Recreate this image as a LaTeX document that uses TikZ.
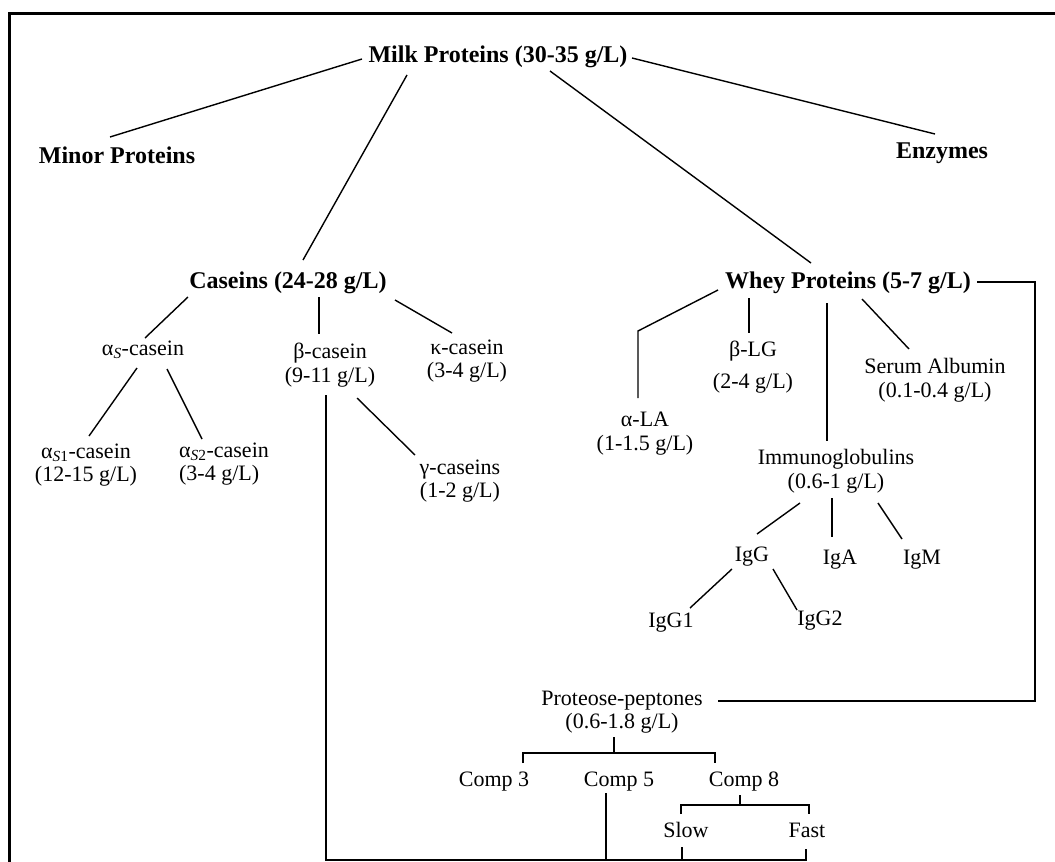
\documentclass[tikz,border=0pt]{standalone}
\usepackage{fontspec}
\setmainfont{Liberation Serif}
\usetikzlibrary{calc}
\tikzset{
  head/.style={inner sep=0pt, font=\fontsize{24}{28}\selectfont\bfseries},
  lab/.style={inner sep=0pt, align=center, font=\fontsize{22}{23.5}\selectfont},
  link/.style={line width=1.4pt, line join=miter},
  frame/.style={line width=2.8pt}
}
\begin{document}
\begin{tikzpicture}[x=1pt,y=-1pt]
\useasboundingbox (0,0) rectangle (1055,862);
\draw[frame] (9.5,862) -- (9.5,13.5) -- (1055,13.5);
% top level
\node[head] (milk) at (498,57) {Milk Proteins (30-35 g/L)};
\node[head] (minor) at (117,155) {Minor Proteins};
\node[head] (enz) at (942,153) {Enzymes};
\node[head] (cas) at (288,283) {Caseins (24-28 g/L)};
\node[head] (whey) at (848,283) {Whey Proteins (5-7 g/L)};
% caseins
\node[lab] (as) at (143,350) {α\textsubscript{\textit{S}}-casein};
\node[lab] (bc) at (330,365) {β-casein\\(9-11 g/L)};
\node[lab] (kc) at (467,361) {κ-casein\\(3-4 g/L)};
\node[lab] (as1) at (86,465) {α\textsubscript{\textit{S}1}-casein\\(12-15 g/L)};
\node[lab, align=left] (as2) at (224,464) {α\textsubscript{\textit{S}2}-casein\\(3-4 g/L)};
\node[lab] (gc) at (460,481) {γ-caseins\\(1-2 g/L)};
% whey
\node[lab] (ala) at (645,433.5) {α-LA\\(1-1.5 g/L)};
\node[lab] (blg) at (753,367) {β-LG\\[8pt](2-4 g/L)};
\node[lab] (sa) at (935,380) {Serum Albumin\\(0.1-0.4 g/L)};
\node[lab] (ig) at (836,471) {Immunoglobulins\\(0.6-1 g/L)};
\node[lab] (igg) at (752,557) {IgG};
\node[lab] (iga) at (840,560) {IgA};
\node[lab] (igm) at (922,560) {IgM};
\node[lab] (igg1) at (671,623) {IgG1};
\node[lab] (igg2) at (820,621) {IgG2};
% proteose-peptones
\node[lab] (pp) at (622,712) {Proteose-peptones\\(0.6-1.8 g/L)};
\node[lab] (c3) at (494,782) {Comp 3};
\node[lab] (c5) at (619,782) {Comp 5};
\node[lab] (c8) at (744,782) {Comp 8};
\node[lab] (slow) at (686,830) {Slow};
\node[lab] (fast) at (807,830) {Fast};
% connectors from milk
\draw[link] ($(milk)+(-136,2)$) -- ($(minor)+(-7,-18)$);
\draw[link] ($(milk)+(134,1)$) -- ($(enz)+(-7,-19)$);
\draw[link] ($(milk)+(-91,18)$) -- ($(cas)+(15,-23)$);
\draw[link] ($(milk)+(52,14)$) -- ($(whey)+(-37,-20)$);
% caseins
\draw[link] ($(cas)+(-100,14)$) -- ($(as)+(2,-12)$);
\draw[link] ($(cas)+(31,14)$) -- ($(bc)+(-11,-31)$);
\draw[link] ($(cas)+(107,17)$) -- ($(kc)+(-15,-28)$);
\draw[link] ($(as)+(-6,18)$) -- ($(as1)+(3,-29)$);
\draw[link] ($(as)+(24,19)$) -- ($(as2)+(-22,-25)$);
\draw[link] ($(bc)+(27,33)$) -- ($(gc)+(-45,-26)$);
\draw[link] ($(bc)+(-4,30)$) |- ($(fast)+(-1,30)$) -- ($(fast)+(-1,19)$);
\draw[link] ($(c5)+(-13,11)$) -- ($(c5)+(-13,78)$);
\draw[link] ($(slow)+(-4,17)$) -- ($(slow)+(-4,30)$);
% whey
\draw[link] ($(whey)+(-130,7)$) -- ($(ala)+(-7,-102.5)$) -- ($(ala)+(-7,-35.5)$);
\draw[link] ($(whey)+(-99,15)$) -- ($(blg)+(-4,-34)$);
\draw[link] ($(whey)+(-21,20)$) -- ($(ig)+(-9,-30)$);
\draw[link] ($(whey)+(14,16)$) -- ($(sa)+(-26,-31)$);
\draw[link] ($(whey)+(129,-1)$) -| ($(pp)+(413,-11)$) -- ($(pp)+(96,-11)$);
% immunoglobulins
\draw[link] ($(ig)+(-36,32)$) -- ($(igg)+(5,-23)$);
\draw[link] ($(ig)+(-4,27)$) -- ($(iga)+(-8,-23)$);
\draw[link] ($(ig)+(42,32)$) -- ($(igm)+(-20,-21)$);
\draw[link] ($(igg)+(-20,12)$) -- ($(igg1)+(19,-15)$);
\draw[link] ($(igg)+(21,12)$) -- ($(igg2)+(-23,-11)$);
% proteose-peptones brackets
\draw[link] ($(pp)+(-8,25)$) -- ($(pp)+(-8,41)$);
\draw[link] ($(c3)+(29,-19)$) |- ($(c8)+(-29,-29)$) -- ($(c8)+(-29,-19)$);
\draw[link] ($(c8)+(-4,13)$) -- ($(c8)+(-4,23)$);
\draw[link] ($(slow)+(-5,-16)$) |- ($(fast)+(2,-25)$) -- ($(fast)+(2,-16)$);
\end{tikzpicture}
\end{document}
